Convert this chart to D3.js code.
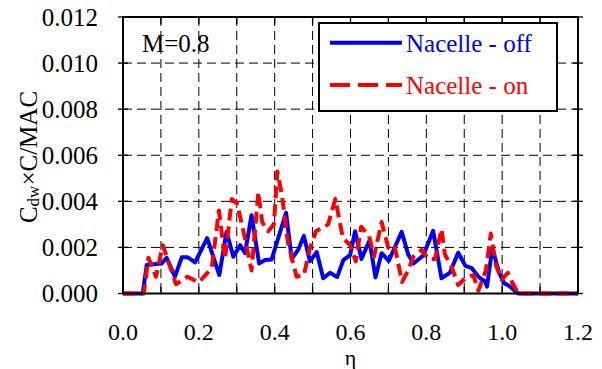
<!DOCTYPE html>
<html><head><meta charset="utf-8">
<script src="https://cdn.jsdelivr.net/npm/d3@7"></script>
<style>body{margin:0;background:#fff;}svg{display:block;} text{font-family:"Liberation Serif","DejaVu Serif",serif;}</style>
</head><body>
<svg id="c" width="602" height="369"></svg>
<script>
const etaOff = [0,0.052,0.0625,0.102,0.115,0.137,0.155,0.171,0.190,0.222,0.254,0.273,0.291,0.309,0.322,0.339,0.359,0.374,0.392,0.430,0.445,0.462,0.477,0.493,0.511,0.528,0.546,0.565,0.581,0.599,0.612,0.629,0.650,0.666,0.682,0.701,0.735,0.752,0.766,0.792,0.818,0.840,0.862,0.884,0.903,0.920,0.939,0.955,0.960,0.974,0.992,1.005,1.017,1.028,1.042,1.2];
const cdwOff = [0,0,0.00124,0.0013,0.00155,0.00073,0.00157,0.00157,0.00135,0.0024,0.0008,0.00268,0.0016,0.0021,0.00175,0.0034,0.0013,0.00145,0.00148,0.0035,0.0015,0.0019,0.0025,0.0014,0.0018,0.00066,0.0009,0.00072,0.00145,0.00167,0.0027,0.0015,0.0023,0.0007,0.00175,0.00142,0.00268,0.0017,0.0013,0.00165,0.00272,0.00066,0.0009,0.00177,0.0012,0.0011,0.0007,0.00052,0.0003,0.00197,0.0009,0.00045,0.00035,0.0002,0,0];
const etaOn = [0,0.055,0.067,0.087,0.105,0.140,0.170,0.200,0.234,0.253,0.269,0.287,0.301,0.317,0.339,0.357,0.367,0.383,0.398,0.407,0.419,0.435,0.458,0.477,0.493,0.509,0.541,0.560,0.580,0.599,0.614,0.628,0.649,0.662,0.682,0.701,0.717,0.736,0.752,0.766,0.788,0.805,0.823,0.840,0.849,0.868,0.884,0.905,0.924,0.937,0.957,0.970,0.984,0.999,1.015,1.026,1.042,1.2];
const cdwOn = [0,0,0.00155,0.00073,0.0021,0.0004,0.00073,0.00048,0.0011,0.0036,0.0015,0.0041,0.0039,0.00275,0.001,0.0044,0.0031,0.0027,0.003,0.0053,0.0043,0.0022,0.00073,0.0008,0.00196,0.0027,0.003,0.0041,0.0024,0.0021,0.0014,0.0029,0.0025,0.0016,0.0031,0.0019,0.002,0.0005,0.001,0.0016,0.0019,0.0015,0.0015,0.0028,0.0017,0.0011,0.00037,0.0007,0.0008,0.00012,0.001,0.0026,0.0012,0.0006,0.0009,0.0005,0,0];
const xTicks = [0,0.2,0.4,0.6,0.8,1.0,1.2];
const yTicks = [0,0.002,0.004,0.006,0.008,0.010,0.012];
const seriesNames = ["Nacelle - off","Nacelle - on"];
const mLabel = "M=0.8";

const FONT = "'Liberation Serif','DejaVu Serif',serif";
const svg = d3.select("#c");
const L=123,R=578,T=17,B=293.5;
const x = d3.scaleLinear().domain([0,1.2]).range([L,R]);
const y = d3.scaleLinear().domain([0,0.012]).range([B,T]);
const minorX = d3.range(0,1.2001,0.1);

// grid
const g = svg.append("g");
g.selectAll(".vg").data(minorX.filter(v=>v>0.05&&v<1.15)).enter().append("line")
 .attr("x1",d=>x(d)).attr("x2",d=>x(d)).attr("y1",T).attr("y2",B)
 .attr("stroke","#000").attr("stroke-width",1).attr("stroke-dasharray","9,5");
g.selectAll(".hg").data(yTicks.filter(v=>v>0&&v<0.0115)).enter().append("line")
 .attr("x1",L).attr("x2",R).attr("y1",d=>y(d)).attr("y2",d=>y(d))
 .attr("stroke","#000").attr("stroke-width",1).attr("stroke-dasharray","9,5");

// ticks
const tk = svg.append("g").attr("stroke","#000").attr("stroke-width",1.3);
minorX.forEach(v=>{
  tk.append("line").attr("x1",x(v)).attr("x2",x(v)).attr("y1",B).attr("y2",B-7);
  tk.append("line").attr("x1",x(v)).attr("x2",x(v)).attr("y1",T).attr("y2",T+7);
});
yTicks.forEach(v=>{
  tk.append("line").attr("x1",L-5).attr("x2",L+5).attr("y1",y(v)).attr("y2",y(v));
  tk.append("line").attr("x1",R-5).attr("x2",R+5).attr("y1",y(v)).attr("y2",y(v));
});

// lines
const line = (xs,ys)=>d3.line().x((d,i)=>x(xs[i])).y((d,i)=>y(ys[i]))(xs);
svg.append("path").attr("d",line(etaOff,cdwOff)).attr("fill","none")
 .attr("stroke","#0000ff").attr("stroke-width",4).attr("stroke-linejoin","round");
svg.append("path").attr("d",line(etaOn,cdwOn)).attr("fill","none")
 .attr("stroke","#ff0000").attr("stroke-width",4).attr("stroke-dasharray","12,6").attr("stroke-linejoin","round");

// frame
svg.append("rect").attr("x",L).attr("y",T).attr("width",R-L).attr("height",B-T)
 .attr("fill","none").attr("stroke","#000").attr("stroke-width",2);

// tick labels
svg.selectAll(".xl").data(xTicks).enter().append("text")
 .attr("x",d=>x(d)).attr("y",340).attr("text-anchor","middle").attr("font-size",24).attr("font-family",FONT)
 .text(d=>d.toFixed(1));
svg.selectAll(".yl").data(yTicks).enter().append("text")
 .attr("x",98).attr("y",d=>y(d)+8.5).attr("text-anchor","end").attr("font-size",25).attr("font-family",FONT)
 .text(d=>d.toFixed(3));

// axis titles
svg.append("text").attr("x",(L+R)/2).attr("y",365).attr("text-anchor","middle").attr("font-size",22).attr("font-family",FONT).text("η");
const yt = svg.append("text").attr("transform","translate(37,157) rotate(-90)").attr("text-anchor","middle").attr("font-size",25).attr("font-family",FONT);
yt.append("tspan").text("C");
yt.append("tspan").attr("font-size",17).attr("dy",2).text("dw");
yt.append("tspan").attr("dy",-2).text("×C/MAC");

svg.append("text").attr("x",142).attr("y",52).attr("font-size",25).attr("font-family",FONT).text(mLabel);

// legend
const lg = svg.append("g");
lg.append("rect").attr("x",319).attr("y",23).attr("width",238).attr("height",88)
 .attr("fill","#fff").attr("stroke","#000").attr("stroke-width",2);
lg.append("line").attr("x1",330).attr("x2",402).attr("y1",42.7).attr("y2",42.7)
 .attr("stroke","#0000ff").attr("stroke-width",4);
lg.append("line").attr("x1",330).attr("x2",402).attr("y1",85).attr("y2",85)
 .attr("stroke","#ff0000").attr("stroke-width",4).attr("stroke-dasharray","20,8");
lg.append("text").attr("x",406).attr("y",52).attr("font-size",25).attr("font-family",FONT).attr("fill","#0000ff").text(seriesNames[0]);
lg.append("text").attr("x",406).attr("y",94).attr("font-size",25).attr("font-family",FONT).attr("fill","#ff0000").text(seriesNames[1]);
</script>
</body></html>
